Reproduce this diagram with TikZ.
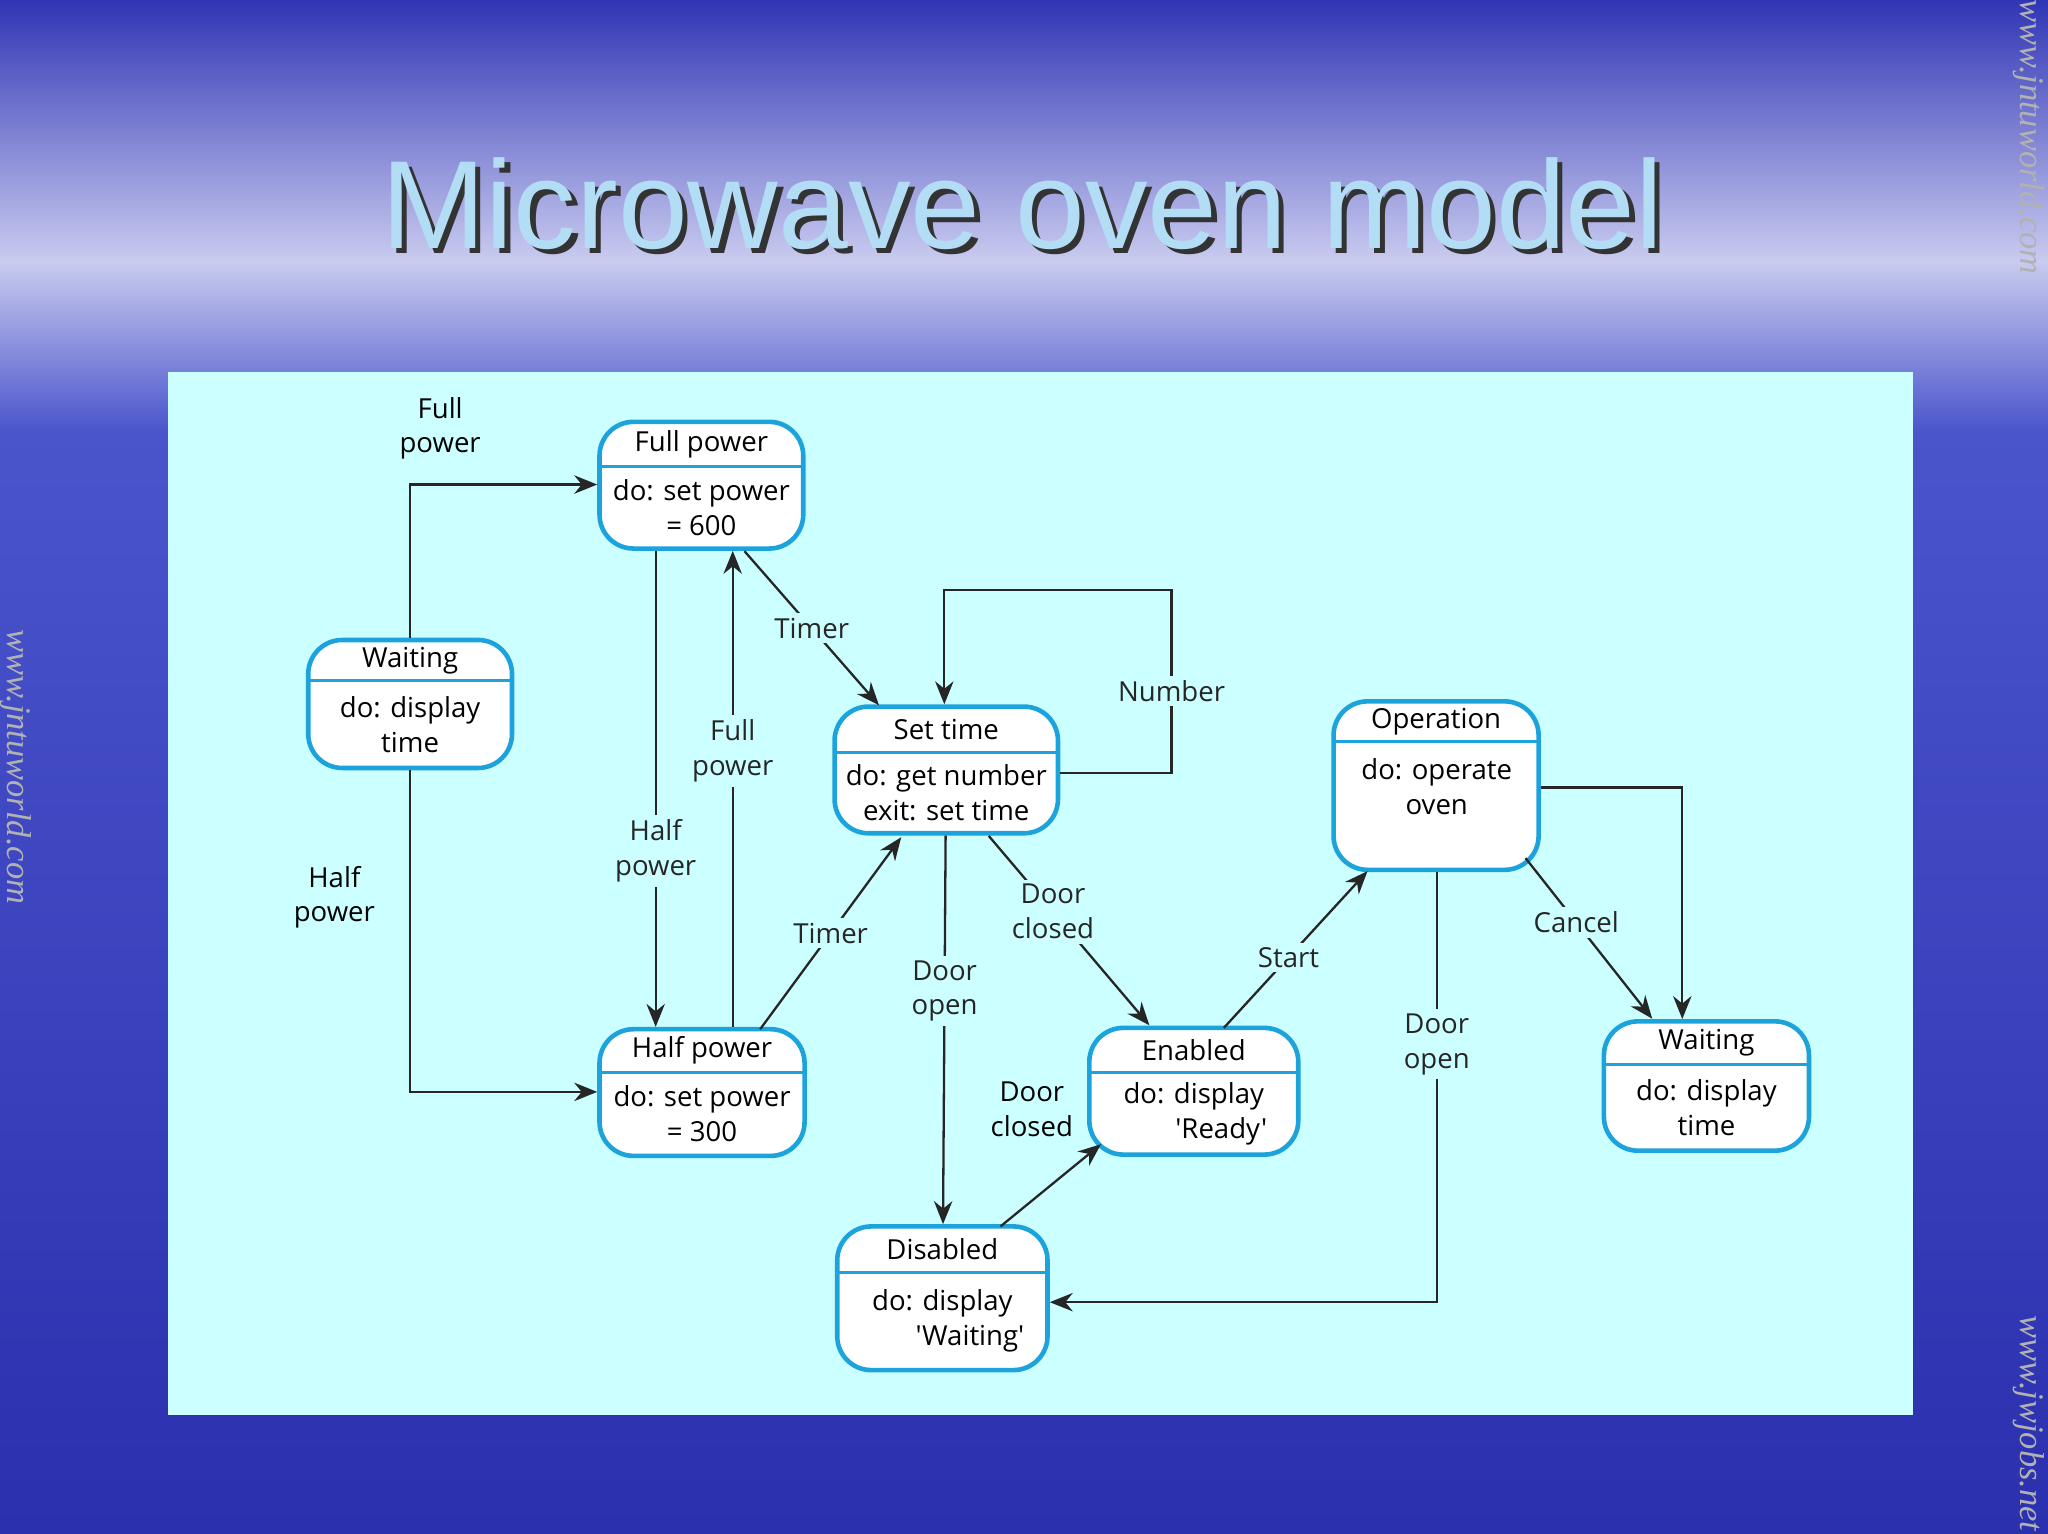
\documentclass[tikz,border=0pt]{standalone}
\usepackage{fontspec}
\setmainfont{Liberation Sans}
\newfontfamily\dfont{Open Sans}
\newfontfamily\wfont{Liberation Serif}
\usetikzlibrary{arrows.meta}
\definecolor{bgtop}{HTML}{3035B5}
\definecolor{bglight}{HTML}{C9CBEF}
\definecolor{bgmid}{HTML}{4A55CC}
\definecolor{bgbot}{HTML}{2B30AE}
\definecolor{panel}{HTML}{CCFFFF}
\definecolor{sborder}{HTML}{1CA3DC}
\definecolor{titlec}{HTML}{B3DDF5}
\tikzset{
  stbox/.style={draw=sborder,line width=1pt,fill=white,rounded corners=0.26cm,inner sep=0pt},
  dv/.style={draw=sborder,line width=0.7pt},
  tx/.style={font=\dfont\fontsize{6.0}{7.6}\selectfont,align=center,inner sep=0pt},
  lbl/.style={tx,fill=panel,inner sep=1pt},
  arr/.style={-{Stealth[length=5pt,width=4pt]},line width=0.5pt,black!85}
}
\newcommand{\mystate}[8]{%
  \node[stbox,minimum width={(#4-#2)*0.01cm},minimum height={(#5-#3)*0.01cm}] (#1) at ({(#2+#4)/2},{-(#3+#5)/2}) {};
  \draw[dv] (#2,-#6) -- (#4,-#6);
  \node[tx] (#1t) at ({(#2+#4)/2},{-(#3+#6)/2}) {#7};
  \node[tx] (#1b) at ({(#2+#4)/2},{-(#6+#5)/2}) {#8};}
\begin{document}
\begin{tikzpicture}[x=0.01cm,y=0.01cm]
\useasboundingbox (0,0) rectangle (1568,-1174);
\shade[top color=bgtop,bottom color=bglight] (0,0) rectangle (1568,-200);
\shade[top color=bglight,bottom color=bgmid] (0,-200) rectangle (1568,-330);
\shade[top color=bgmid,bottom color=bgbot] (0,-330) rectangle (1568,-1174);
\fill[panel] (129,-285) rectangle (1465,-1083);
% title
\node[font=\fontsize{27.3}{32}\selectfont,text=black!80] at (787,-160) {Microwave oven model};
\node[font=\fontsize{27.3}{32}\selectfont,text=titlec] (title) at (783,-156) {Microwave oven model};
% watermarks
\node[rotate=-90,font=\wfont\itshape\fontsize{7.5}{9}\selectfont,text=gray!60] (w1) at (12,-587) {www.jntuworld.com};
\node[rotate=-90,font=\wfont\itshape\fontsize{7.5}{9}\selectfont,text=gray!60] (w2) at (1553,-105) {www.jntuworld.com};
\node[rotate=-90,font=\wfont\itshape\fontsize{7.5}{9}\selectfont,text=gray!60] (w3) at (1553,-1090) {www.jwjobs.net};
% states
\mystate{full}{459}{323}{615}{420}{357}{Full power}{do: set power\\= 600}
\mystate{waitl}{236}{490}{392}{588}{521}{Waiting}{do: display\\time}
\mystate{set}{639}{541}{810}{638}{576}{Set time}{do: get number\\exit: set time}
\mystate{half}{459}{788}{616}{885}{821}{Half power}{do: set power\\= 300}
\mystate{op}{1021}{537}{1178}{666}{568}{Operation}{}
\node[tx] (opb) at (1100,-602) {do: operate\\oven};
\mystate{en}{834}{787}{994}{884}{821}{Enabled}{do: display\\\hspace*{2em}'Ready'}
\mystate{waitr}{1228}{782}{1385}{881}{815}{Waiting}{do: display\\time}
\mystate{dis}{641}{939}{802}{1049}{974}{Disabled}{do: display\\\hspace*{2em}'Waiting'}
% connectors
\draw[arr] (waitl.north) -- (314,-371) -- (full.west |- 0,-371);
\node[tx] (l1) at (337,-328) {Full\\power};
\draw[arr] (waitl.south) -- (314,-836) -- (half.west |- 0,-836);
\node[tx] (l2) at (256,-687) {Half\\power};
\draw[arr] (full.south -| 502,0) -- node[lbl,pos=0.63] {Half\\power} (half.north -| 502,0);
\draw[arr] (half.north -| 561,0) -- node[lbl,pos=0.58] {Full\\power} (full.south -| 561,0);
\draw[arr] (570,-422) -- node[lbl,pos=0.5] {Timer} (673,-540);
\draw[arr] (582,-788) -- node[lbl,pos=0.5] {Timer} (690,-641);
\draw[arr] (set.east |- 0,-592) -- (897,-592) -- node[lbl,pos=0.45] {Number} (897,-452) -- (723,-452) -- (set.north -| 723,0);
\draw[arr] (set.south -| 724,0) -- node[lbl,pos=0.4] {Door\\open} (dis.north -| 722,0);
\draw[arr] (757,-640) -- node[lbl,pos=0.4] {Door\\closed} (880,-785);
\draw[arr] (766,-939) -- (843,-876);
\node[tx] (l10) at (790,-849) {Door\\closed};
\draw[arr] (937,-787) -- node[lbl,pos=0.45] {Start} (1047,-667);
\draw[arr] (op.south -| 1100,0) -- node[lbl,pos=0.4] {Door\\open} (1100,-997) -- (dis.east |- 0,-997);
\draw[arr] (1168,-657) -- node[lbl,pos=0.4] {Cancel} (1265,-780);
\draw[arr] (op.east |- 0,-603) -- (1288,-603) -- (waitr.north -| 1288,0);
\end{tikzpicture}
\end{document}
